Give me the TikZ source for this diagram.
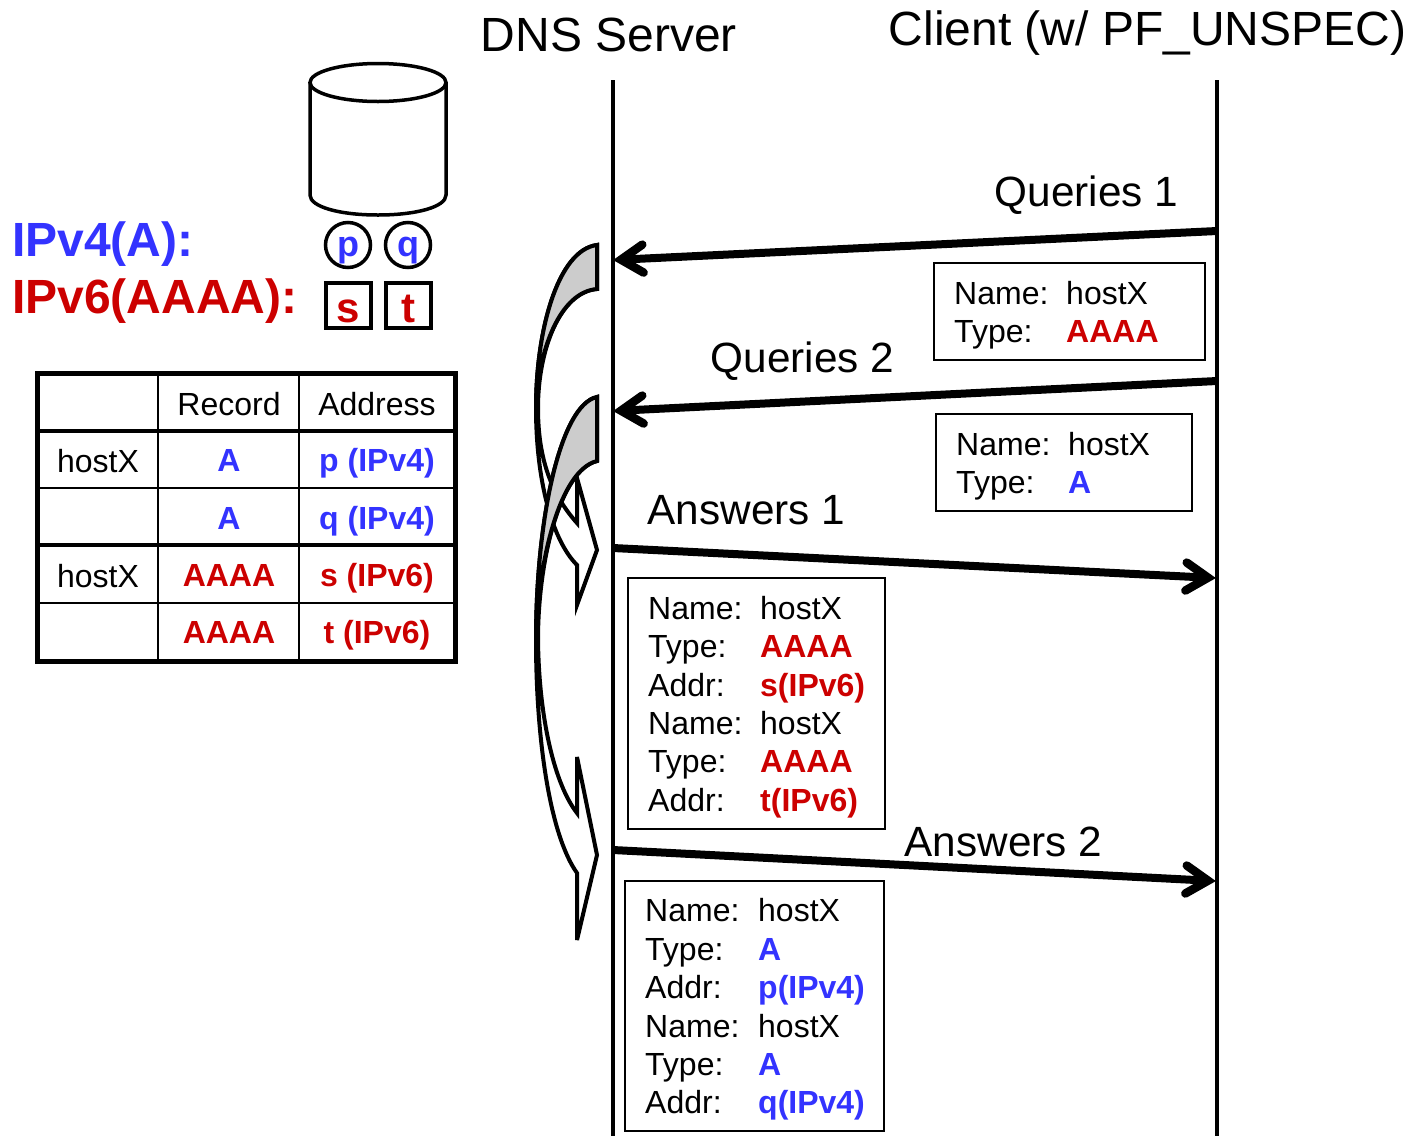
\documentclass[tikz,border=0pt]{standalone}
\usepackage{fontspec}
\setmainfont{Liberation Sans}
\usetikzlibrary{calc}
\definecolor{vfour}{HTML}{3333FF}
\definecolor{vsix}{HTML}{CC0000}
\newcommand{\fsz}[1]{\fontsize{#1}{#1}\selectfont}
\tikzset{
  x=1pt,y=-1pt,
  txt/.style={anchor=base west,inner sep=0pt,font=\fsz{32}},
  ctr/.style={anchor=base,inner sep=0pt,font=\fsz{32}},
  big/.style={anchor=base west,inner sep=0pt,font=\fsz{42.3}},
  title/.style={anchor=base west,inner sep=0pt,font=\fsz{48}},
  fv/.style={text=vfour,font=\fsz{32}\bfseries},
  fs/.style={text=vsix,font=\fsz{32}\bfseries},
  lifeline/.style={line width=4pt},
  msg/.style={line width=8pt},
  msghead/.style={line width=8.5pt,line cap=round,line join=miter,miter limit=10},
  infobox/.style={draw,line width=1.5pt,fill=none,inner sep=0pt},
  tblthin/.style={line width=2pt},
  tblmid/.style={line width=4pt},
  blockarrow/.style={draw,line width=4pt,fill=white,line join=miter,miter limit=8},
  crescent/.style={draw,line width=4pt,fill=black!20,line join=miter,miter limit=8},
  mark box/.style={draw,line width=4pt,minimum size=45pt,inner sep=0pt},
  mark circle/.style={draw,circle,line width=3.5pt,minimum size=45pt,inner sep=0pt},
}
% #1 start coordinate, #2 tip coordinate: thick shaft with an open, round-ended head
\newcommand{\msgarrow}[2]{%
  \coordinate (apex#2) at ($(#2)!7pt!(#1)$);
  \coordinate (back#2) at ($(#2)!29pt!(#1)$);
  \draw[msg] (#1) -- (apex#2);
  \draw[msghead] ($(back#2)!14pt!90:(#2)$) -- (apex#2) -- ($(back#2)!14pt!-90:(#2)$);
}
\begin{document}
\begin{tikzpicture}
\useasboundingbox (0,0) rectangle (1409,1136);

% titles
\node[title] (dns) at (480.5,51) {DNS Server};
\node[title] (client) at (888.5,45) {Client (w/ PF\_UNSPEC)};

% lifelines
\coordinate (dt) at (612.5,80); \coordinate (db) at (612.5,1136);
\coordinate (ct) at (1217,80); \coordinate (cb) at (1217,1136);
\draw[lifeline] (dt) -- (db);
\draw[lifeline] (ct) -- (cb);

% curved arrow 1
\path[blockarrow] (597,245) .. controls (558,250) and (536,330) .. (536,408)
  .. controls (536,480) and (552,540) .. (577,565) -- (577,605) -- (597,550) -- (577,478) -- (577,523)
  .. controls (552,495) and (538,460) .. (538,408)
  .. controls (538,350) and (560,292) .. (597,289) -- cycle;
\path[crescent] (597,245) .. controls (558,250) and (536,330) .. (536,408)
  .. controls (538,350) and (560,292) .. (597,289) -- cycle;

% curved arrow 2
\path[blockarrow] (597,397) .. controls (560,405) and (536,520) .. (536,640)
  .. controls (536,740) and (550,835) .. (577,873) -- (577,940) -- (597,855) -- (577,757) -- (577,813)
  .. controls (555,785) and (539,720) .. (538,640)
  .. controls (538,560) and (560,470) .. (597,461) -- cycle;
\path[crescent] (597,397) .. controls (560,405) and (536,520) .. (536,640)
  .. controls (538,560) and (560,470) .. (597,461) -- cycle;

% messages
\coordinate (qoa) at (1217,231); \coordinate (qob) at (614,260);
\coordinate (qta) at (1217,381); \coordinate (qtb) at (614,411);
\coordinate (aoa) at (613,548);  \coordinate (aob) at (1215,578);
\coordinate (ata) at (613,850);  \coordinate (atb) at (1215,881);
\msgarrow{qoa}{qob}
\msgarrow{qta}{qtb}
\msgarrow{aoa}{aob}
\msgarrow{ata}{atb}

\node[big] (lq1) at (994.5,206) {Queries 1};
\node[big] (lq2) at (710.5,372) {Queries 2};
\node[big] (la1) at (647.5,524) {Answers 1};
\node[big] (la2) at (904.5,856) {Answers 2};

% info boxes
\draw[infobox] (934,263) rectangle (1205,360);
\node[txt] (b1a) at (954,304) {Name:};  \node[txt] (b1b) at (1066,304) {hostX};
\node[txt] (b1c) at (954,342) {Type:};  \node[txt,fs] (b1d) at (1066,342) {AAAA};

\draw[infobox] (936,414) rectangle (1192,511);
\node[txt] (b2a) at (956,455) {Name:};  \node[txt] (b2b) at (1068,455) {hostX};
\node[txt] (b2c) at (956,493) {Type:};  \node[txt,fv] (b2d) at (1068,493) {A};

\draw[infobox] (628,578) rectangle (885,829);
\node[txt] (b3a) at (648,619) {Name:};  \node[txt] (b3b) at (760,619) {hostX};
\node[txt] (b3c) at (648,657) {Type:};  \node[txt,fs] (b3d) at (760,657) {AAAA};
\node[txt] (b3e) at (648,696) {Addr:};  \node[txt,fs] (b3f) at (760,696) {s(IPv6)};
\node[txt] (b3g) at (648,734) {Name:};  \node[txt] (b3h) at (760,734) {hostX};
\node[txt] (b3i) at (648,772) {Type:};  \node[txt,fs] (b3j) at (760,772) {AAAA};
\node[txt] (b3k) at (648,811) {Addr:};  \node[txt,fs] (b3l) at (760,811) {t(IPv6)};

\draw[infobox] (625,881) rectangle (884,1131);
\node[txt] (b4a) at (645,921) {Name:};  \node[txt] (b4b) at (758,921) {hostX};
\node[txt] (b4c) at (645,960) {Type:};  \node[txt,fv] (b4d) at (758,960) {A};
\node[txt] (b4e) at (645,998) {Addr:};  \node[txt,fv] (b4f) at (758,998) {p(IPv4)};
\node[txt] (b4g) at (645,1037) {Name:}; \node[txt] (b4h) at (758,1037) {hostX};
\node[txt] (b4i) at (645,1075) {Type:}; \node[txt,fv] (b4j) at (758,1075) {A};
\node[txt] (b4k) at (645,1113) {Addr:}; \node[txt,fv] (b4l) at (758,1113) {q(IPv4)};

% database
\draw[line width=3.5pt,fill=white] (310,82.5) -- (310,195) .. controls (310,207) and (340,215) .. (378,215)
  .. controls (416,215) and (446,207) .. (446,195) -- (446,82.5);
\draw[line width=3.5pt] (378,82.5) ellipse [x radius=68,y radius=19];

% legend
\node[anchor=base west,inner sep=0pt,text=vfour,font=\fsz{48}\bfseries] (l4) at (12,256) {IPv4(A):};
\node[anchor=base west,inner sep=0pt,text=vsix,font=\fsz{48}\bfseries] (l6) at (12,313.5) {IPv6(AAAA):};
\node[mark circle] (cp) at (348,245) {};
\node[mark circle] (cq) at (408,245) {};
\node[mark box] (ss) at (348,305.5) {};
\node[mark box] (st) at (408,305.5) {};
\node[anchor=base,inner sep=0pt,text=vfour,font=\fsz{36}\bfseries] (tp) at (348,256) {p};
\node[anchor=base,inner sep=0pt,text=vfour,font=\fsz{36}\bfseries] (tq) at (408,256) {q};
\node[anchor=base,inner sep=0pt,text=vsix,font=\fsz{42}\bfseries] (ts) at (348,322) {s};
\node[anchor=base,inner sep=0pt,text=vsix,font=\fsz{42}\bfseries] (tt) at (408,322) {t};

% table
\draw[tblthin] (158,373) -- (158,661);
\draw[tblthin] (299,373) -- (299,661);
\draw[tblmid] (37,431) -- (455,431);
\draw[tblthin] (37,488) -- (455,488);
\draw[tblmid] (37,545) -- (455,545);
\draw[tblthin] (37,603) -- (455,603);
\draw[line width=5pt] (37,373) rectangle (455,661);

\node[ctr] (h1) at (229,415.5) {Record};
\node[ctr] (h2) at (377,415.5) {Address};
\node[ctr] (r1a) at (98,472) {hostX};
\node[ctr,fv] (r1b) at (229,471.5) {A};
\node[ctr,fv] (r1c) at (377,471.5) {p (IPv4)};
\node[ctr,fv] (r2b) at (229,529.5) {A};
\node[ctr,fv] (r2c) at (377,529.5) {q (IPv4)};
\node[ctr] (r3a) at (98,587) {hostX};
\node[ctr,fs] (r3b) at (229,586.5) {AAAA};
\node[ctr,fs] (r3c) at (377,586.5) {s (IPv6)};
\node[ctr,fs] (r4b) at (229,643.5) {AAAA};
\node[ctr,fs] (r4c) at (377,643.5) {t (IPv6)};
\end{tikzpicture}
\end{document}
